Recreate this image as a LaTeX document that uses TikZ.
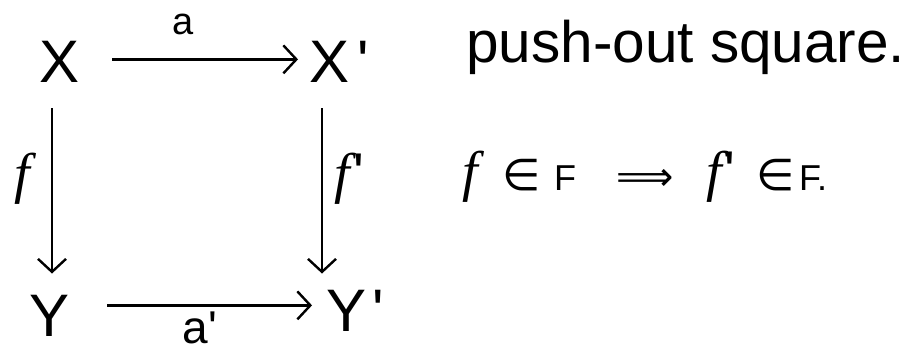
\documentclass[tikz,border=0pt]{standalone}
\usepackage{fontspec}
\setmainfont{Liberation Sans}
\newfontfamily\fitfont{Liberation Serif}
\newfontfamily\symfont{DejaVu Sans}
\newcommand{\fit}{{\fitfont\itshape f}}
\newcommand{\pr}{\textquotesingle}
\usetikzlibrary{arrows.meta}
\tikzset{
  obj/.style={inner sep=0pt, font=\fontsize{60}{60}\selectfont},
  arr/.style={line width=2.6pt, -{Straight Barb[length=13pt,width=28pt,line width=2.4pt]}},
  lab/.style={inner sep=0pt},
  txt/.style={inner sep=0pt, anchor=base west},
  big/.style={font=\fontsize{56}{56}\selectfont},
  mid/.style={font=\fontsize{36}{36}\selectfont},
  sym/.style={font=\fontsize{44}{44}\selectfont\symfont}
}
\begin{document}
\begin{tikzpicture}[x=1pt,y=-1pt]
\useasboundingbox (0,0) rectangle (907,351);
\node[obj,anchor=base] (X) at (60,82) {X};
\node[obj,anchor=base west] (Xp) at (309,82) {X\hspace{8pt}\pr};
\node[obj,anchor=base] (Y) at (50,336) {Y};
\node[obj,anchor=base west] (Yp) at (326,331) {Y\hspace{6pt}\pr};
% arrows
\draw[arr, shorten <=32pt, shorten >=11pt] ([yshift=2pt]X.east) -- ([yshift=2pt]X.east -| Xp.west);
\draw[arr, shorten <=37pt, shorten >=14pt] ([yshift=10pt]Y.east) -- ([yshift=10pt]Y.east -| Yp.west);
\draw[arr, shorten <=26pt, shorten >=21pt] ([xshift=-8pt]X.south) -- ([xshift=-8pt]X.south |- Y.north);
\draw[arr, shorten <=26pt, shorten >=16pt] ([xshift=13pt]Xp.south west) -- ([xshift=13pt]Xp.south west |- Yp.north);
% labels
\node[lab, anchor=base, font=\fontsize{38}{38}\selectfont] (la) at (183,34) {a};
\node[lab, anchor=base, font=\fontsize{46}{46}\selectfont] (lap) at (200,343) {a\pr};
\node[lab, anchor=base, big] (lf) at (22,192) {\fit};
\node[lab, anchor=base west, big] (lfp) at (334,192) {\fit\hspace{4pt}\pr};
% text
\node[txt, font=\fontsize{58.5}{58.5}\selectfont] (t1) at (466,62) {push-out square.};
\node[txt, big] (s1) at (462,190) {\fit};
\node[txt, sym] (s2) at (502,190) {∈};
\node[txt, mid] (s3) at (554,190) {F};
\node[txt, font=\fontsize{40}{40}\selectfont\symfont] (s4) at (616,190) {⟹};
\node[txt, big] (s5) at (706,190) {\fit\hspace{3pt}\pr};
\node[txt, sym] (s6) at (756,190) {∈};
\node[txt, mid] (s7) at (799,190) {F.};
\end{tikzpicture}
\end{document}
